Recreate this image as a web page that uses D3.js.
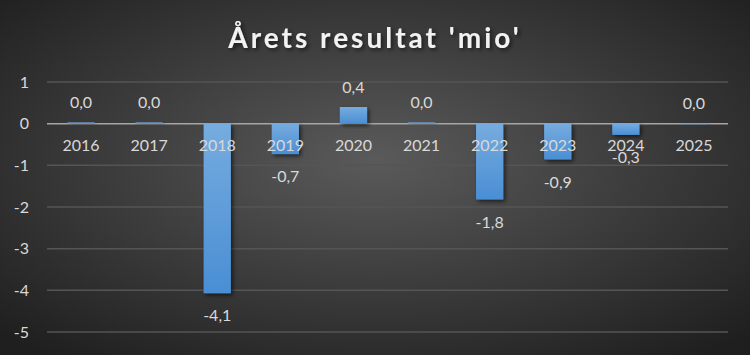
<!DOCTYPE html>
<html>
<head>
<meta charset="utf-8">
<script src="https://cdn.jsdelivr.net/npm/d3@7"></script>
<style>
  body { margin: 0; background: #333; }
  svg { display: block; font-family: Lato, "Open Sans", sans-serif; }
</style>
</head>
<body>
<script>
var years = ['2016','2017','2018','2019','2020','2021','2022','2023','2024','2025'];
var result = [0.03, 0.03, -4.07, -0.73, 0.4, 0.03, -1.82, -0.86, -0.27, 0.01];
var yTicks = [1, 0, -1, -2, -3, -4, -5];

var W = 750, H = 355;
var svg = d3.select("body").append("svg").attr("width", W).attr("height", H);
var defs = svg.append("defs");

var bg = defs.append("radialGradient").attr("id","bg").attr("cx","50%").attr("cy","45%").attr("r","70%");
bg.append("stop").attr("offset","0%").attr("stop-color","#5a5a5a");
bg.append("stop").attr("offset","100%").attr("stop-color","#1f1f1f");

var bar = defs.append("linearGradient").attr("id","bar").attr("x1",0).attr("y1",0).attr("x2",0).attr("y2",1);
bar.append("stop").attr("offset","0%").attr("stop-color","#76acdf");
bar.append("stop").attr("offset","100%").attr("stop-color","#4a8ed4");

var sh = defs.append("filter").attr("id","sh").attr("x","-20%").attr("y","-20%").attr("width","150%").attr("height","150%");
sh.append("feDropShadow").attr("dx",2).attr("dy",2).attr("stdDeviation",2).attr("flood-color","#000").attr("flood-opacity",0.6);

svg.append("rect").attr("width", W).attr("height", H).attr("fill","url(#bg)");

svg.append("text")
    .attr("x", 375).attr("y", 48)
    .attr("text-anchor","middle")
    .attr("font-size", 28).attr("font-weight","bold")
    .attr("letter-spacing", 3)
    .attr("fill","#f2f2f2")
    .attr("filter","url(#sh)")
    .text("Årets resultat 'mio'");

var x = d3.scaleBand().domain(years).range([47, 728]).paddingInner(0.6).paddingOuter(0.3);
var y = d3.scaleLinear().domain([-5, 1]).range([332, 82]);

// gridlines
svg.append("g").selectAll("line").data(yTicks).enter().append("line")
    .attr("x1", 47).attr("x2", 728)
    .attr("y1", function(d){ return y(d); })
    .attr("y2", function(d){ return y(d); })
    .attr("stroke", function(d){ return d === 0 ? "#a6a6a6" : "#555"; })
    .attr("stroke-width", 1.5);

var yAxis = d3.axisLeft(y).tickValues(yTicks).tickSize(0).tickPadding(0)
    .tickFormat(function(d){ return String(d); });
var gy = svg.append("g").attr("transform","translate(29,0)").call(yAxis);
gy.select(".domain").remove();
gy.selectAll("text").attr("fill","#d9d9d9").attr("font-size",16).attr("font-family","Lato, 'Open Sans', sans-serif");

svg.append("g").selectAll("rect").data(result).enter().append("rect")
    .attr("x", function(d,i){ return x(years[i]); })
    .attr("width", x.bandwidth())
    .attr("y", function(d){ return d > 0 ? y(d) : y(0); })
    .attr("height", function(d){ return Math.max(1, Math.abs(y(d) - y(0))); })
    .attr("fill","url(#bar)")
    .attr("filter","url(#sh)");

var xAxis = d3.axisBottom(x).tickSize(0).tickPadding(16);
var gx = svg.append("g").attr("transform","translate(0," + y(0) + ")").call(xAxis);
gx.select(".domain").remove();
gx.selectAll("text").attr("fill","#d9d9d9").attr("font-size",16).attr("font-family","Lato, 'Open Sans', sans-serif");

svg.append("g").selectAll("text").data(result).enter().append("text")
    .attr("x", function(d,i){ return x(years[i]) + x.bandwidth()/2; })
    .attr("y", function(d){ return d >= 0 ? y(d) - 14 : y(d) + 28; })
    .attr("text-anchor","middle")
    .attr("font-size",16)
    .attr("fill","#d9d9d9")
    .text(function(d){ return d3.format(".1f")(d).replace(".", ",").replace("−","-"); });
</script>
</body>
</html>
